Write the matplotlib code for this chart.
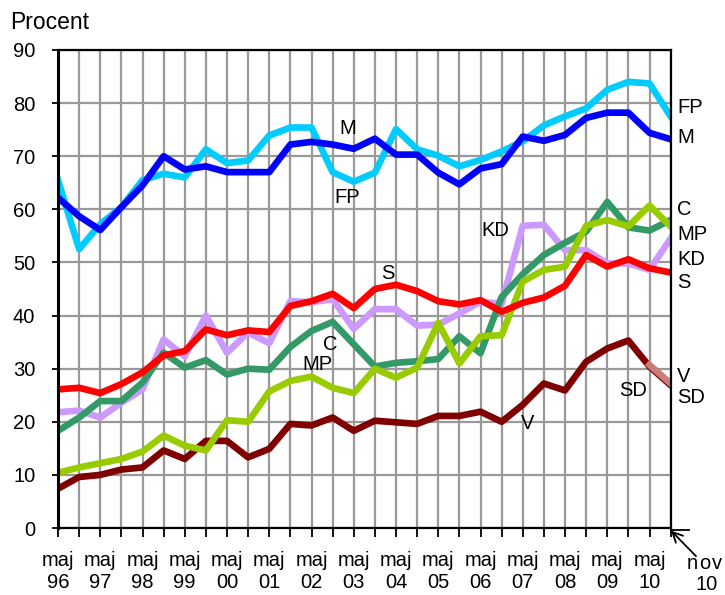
import matplotlib
matplotlib.use("Agg")
import matplotlib.pyplot as plt
import numpy as np

plt.rcParams["font.family"] = ["Liberation Sans", "DejaVu Sans"]

# halvårsmätningar maj 96 .. nov 10
years = ["96", "97", "98", "99", "00", "01", "02", "03",
         "04", "05", "06", "07", "08", "09", "10"]

fp = [65.5, 52.5, 57.2, 60.4, 65.5, 66.7, 66.0, 71.3, 68.7, 69.2,
      73.9, 75.4, 75.4, 67.0, 65.2, 66.9, 75.1, 71.3, 70.1, 68.1,
      69.3, 70.9, 72.8, 75.8, 77.5, 79.0, 82.5, 84.0, 83.7, 77.5]
m = [62.2, 58.7, 56.1, 60.4, 64.5, 70.0, 67.5, 68.1, 67.0, 67.0,
     67.0, 72.2, 72.7, 72.2, 71.4, 73.3, 70.3, 70.3, 66.9, 64.7,
     67.7, 68.5, 73.7, 72.9, 74.0, 77.2, 78.2, 78.2, 74.4, 73.2]
c = [18.3, 20.8, 23.9, 23.9, 27.4, 33.0, 30.2, 31.6, 28.9, 30.0,
     29.8, 34.1, 37.1, 38.8, 34.6, 30.4, 31.1, 31.4, 31.8, 36.1,
     32.9, 43.5, 47.8, 51.4, 53.7, 55.8, 61.4, 56.6, 56.0, 58.0]
kd = [21.8, 22.1, 20.8, 23.6, 26.1, 35.5, 32.3, 40.0, 33.0, 36.8,
      34.8, 42.7, 42.5, 43.1, 37.5, 41.2, 41.2, 38.1, 38.3, 40.4,
      42.6, 42.2, 56.9, 57.1, 52.3, 52.3, 49.8, 49.8, 48.6, 54.5]
mp = [10.4, 11.4, 12.2, 13.0, 14.4, 17.4, 15.5, 14.6, 20.3, 20.0,
      25.7, 27.7, 28.5, 26.4, 25.4, 30.0, 28.3, 30.2, 38.6, 31.0,
      36.1, 36.3, 46.4, 48.6, 49.2, 56.9, 58.0, 56.8, 60.7, 56.8]
s = [26.1, 26.4, 25.4, 27.1, 29.3, 32.5, 33.3, 37.4, 36.3, 37.2,
     36.9, 41.8, 42.7, 44.1, 41.4, 45.0, 45.8, 44.6, 42.7, 42.1,
     42.9, 40.7, 42.4, 43.4, 45.6, 51.4, 49.2, 50.6, 48.9, 48.1]
v = [7.4, 9.6, 10.0, 11.0, 11.4, 14.6, 13.0, 16.4, 16.4, 13.3,
     14.9, 19.6, 19.3, 20.8, 18.3, 20.2, 19.9, 19.6, 21.1, 21.1,
     21.9, 20.0, 23.2, 27.2, 25.9, 31.3, 33.8, 35.3, 30.4, 26.9]
sd = [np.nan] * 28 + [30.7, 27.2]

x = np.arange(len(fp))

fig = plt.figure(figsize=(7.25, 5.95), dpi=100)
ax = fig.add_axes([0.08, 0.1126, 0.845, 0.8034])

lw = 4.8
ax.plot(x, v, color="#800000", lw=lw)
ax.plot(x, sd, color="#CC7B7B", lw=lw)
ax.plot(x, kd, color="#CC99FF", lw=lw)
ax.plot(x, c, color="#339966", lw=lw)
ax.plot(x, mp, color="#99CC00", lw=lw)
ax.plot(x, s, color="#FF0000", lw=lw)
ax.plot(x, fp, color="#00CCFF", lw=lw)
ax.plot(x, m, color="#0000FF", lw=lw)

ax.set_xlim(0, len(x) - 1)
ax.set_ylim(0, 90)
ax.set_yticks(range(0, 91, 10))
ax.set_xticks(x)
xlabels = [""] * len(x)
for i, yy in enumerate(years):
    xlabels[2 * i] = f"maj\n{yy}"
ax.set_xticklabels(xlabels, linespacing=1.2)
ax.tick_params(axis="x", length=6.5, width=1.3, pad=10, labelsize=14.5)
ax.tick_params(axis="y", length=4.3, width=1.3, pad=12, labelsize=14.5)

ax.grid(True, color="#999999", lw=1.6)
ax.set_axisbelow(True)
for sp in ax.spines.values():
    sp.set_linewidth(1.6)
ax.spines["left"].set_linewidth(2.2)

fig.text(0.014, 0.963, "Procent", fontsize=16.5, va="center", ha="left")

fs = 14.5
# etiketter inne i diagrammet
ax.text(13.7, 75.3, "M", fontsize=fs, ha="center", va="center")
ax.text(13.7, 62.3, "FP", fontsize=fs, ha="center", va="center")
ax.text(20.7, 56.1, "KD", fontsize=fs, ha="center", va="center")
ax.text(15.6, 48.0, "S", fontsize=fs, ha="center", va="center")
ax.text(12.9, 34.5, "C", fontsize=fs, ha="center", va="center")
ax.text(12.3, 30.7, "MP", fontsize=fs, ha="center", va="center")
ax.text(22.25, 19.7, "V", fontsize=fs, ha="center", va="center")
ax.text(27.2, 25.8, "SD", fontsize=fs, ha="center", va="center")

# etiketter till höger
right = [("FP", 79.1), ("M", 73.6), ("C", 59.9), ("MP", 55.3),
         ("KD", 50.6), ("S", 46.3), ("V", 28.5), ("SD", 24.5)]
for name, yy in right:
    ax.text(29.3, yy, name, fontsize=fs, ha="left", va="center", clip_on=False)

# nov 10 med pil
ax.plot([29, 29.85], [-0.4, -0.4], color="black", lw=1.3, clip_on=False)
ax.annotate("", xy=(29.02, -0.5), xytext=(30.2, -5.3), annotation_clip=False,
            arrowprops=dict(arrowstyle="->", color="black", lw=1.3,
                            mutation_scale=18, shrinkA=0, shrinkB=0))
for xx, ch in [(30.03, "n"), (30.62, "o"), (31.2, "v")]:
    ax.text(xx, -6.6, ch, fontsize=fs, ha="center", va="center", clip_on=False)
ax.text(30.7, -10.6, "10", fontsize=fs, ha="center", va="center", clip_on=False)

fig.savefig("out.png", dpi=100)
